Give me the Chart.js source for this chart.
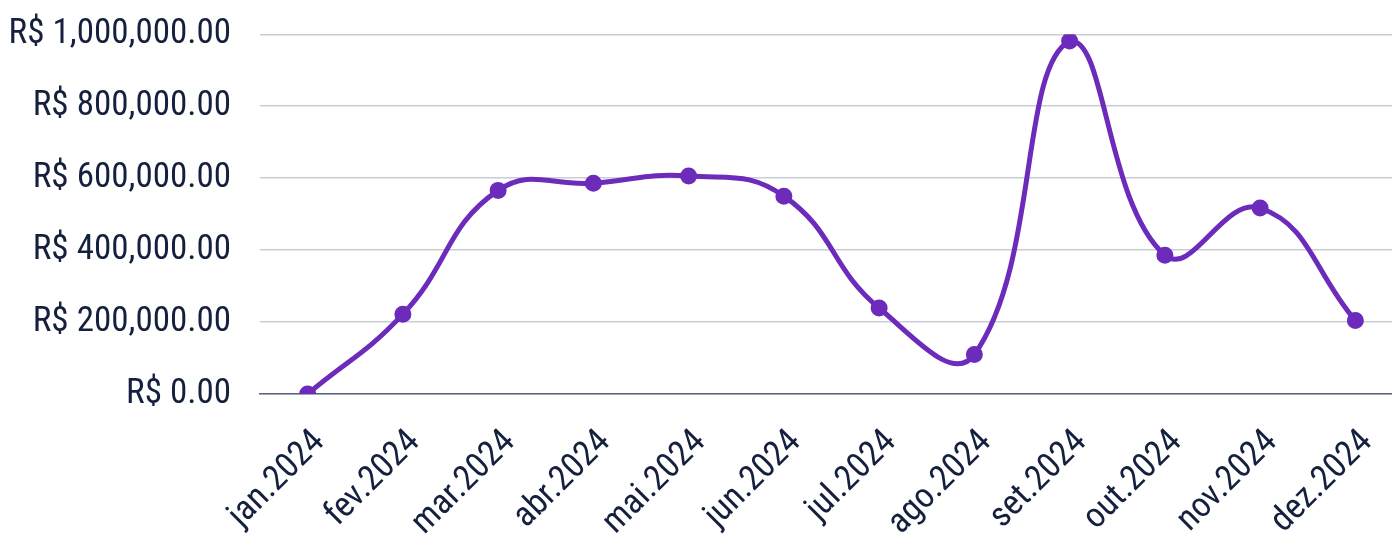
<!DOCTYPE html>
<html>
<head>
<meta charset="utf-8">
<script src="https://cdn.jsdelivr.net/npm/chart.js@4.4.1/dist/chart.umd.min.js"></script>
<style>
    html, body { margin: 0; padding: 0; background: #fff; overflow: hidden; }
    #wrap { width: 1414px; height: 535px; }
</style>
</head>
<body>
<div id="wrap"><canvas id="Faturamento"></canvas></div>
<script>
const months = ['jan.2024', 'fev.2024', 'mar.2024', 'abr.2024', 'mai.2024', 'jun.2024',
                'jul.2024', 'ago.2024', 'set.2024', 'out.2024', 'nov.2024', 'dez.2024'];
const revenue = [0, 222000, 566000, 586000, 606000, 550000,
                 239000, 110000, 981000, 386000, 517000, 204000];
const yTicks = [0, 200000, 400000, 600000, 800000, 1000000];

const textColor = '#14203d';
const fontFamily = "'Liberation Sans Narrow', 'Roboto Condensed', 'DejaVu Sans Condensed', sans-serif";

const money = (v) => 'R$ ' + v.toLocaleString('en-US', { minimumFractionDigits: 2, maximumFractionDigits: 2 });

new Chart(document.getElementById('Faturamento'), {
    type: 'line',
    data: {
        labels: months,
        datasets: [{
            label: 'Faturamento',
            data: revenue,
            borderColor: '#6c2bbb',
            backgroundColor: '#6c2bbb',
            borderWidth: 5,
            pointRadius: 6,
            pointHoverRadius: 6,
            tension: 0.45,
            fill: false
        }]
    },
    options: {
        responsive: true,
        maintainAspectRatio: false,
        animation: false,
        layout: { padding: { top: 34, left: 0, right: 0, bottom: 0 } },
        plugins: {
            legend: { display: false },
            tooltip: { enabled: false }
        },
        scales: {
            x: {
                offset: true,
                grid: { display: false, drawTicks: false },
                border: { display: true, color: '#5c6480', width: 1.5 },
                ticks: {
                    color: textColor,
                    font: { family: fontFamily, size: 35 },
                    maxRotation: 45,
                    minRotation: 45,
                    padding: 28,
                    labelOffset: 12,
                    autoSkip: false
                },
                afterFit: (s) => { s.height = 141; }
            },
            y: {
                min: 0,
                max: 1000000,
                afterBuildTicks: (s) => { s.ticks = yTicks.map(v => ({ value: v })); },
                grid: { color: '#c9cdd5', lineWidth: 1.5, drawTicks: false },
                border: { display: false },
                ticks: {
                    color: textColor,
                    font: { family: fontFamily, size: 35, lineHeight: 0.3 },
                    padding: 29,
                    callback: (v) => money(v)
                },
                afterFit: (s) => { s.width = 260; }
            }
        }
    }
});
</script>
</body>
</html>
